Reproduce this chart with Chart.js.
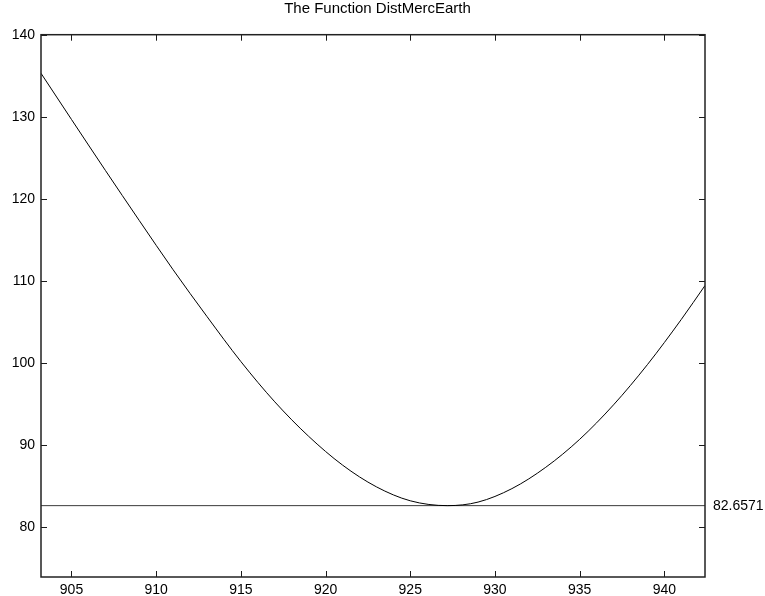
<!DOCTYPE html>
<html>
<head>
<meta charset="utf-8">
<script src="https://cdn.jsdelivr.net/npm/chart.js@4.4.1/dist/chart.umd.min.js"></script>
<style>
	html, body { margin: 0; padding: 0; background: #fff; }
	#wrap { width: 765px; height: 596px; }
</style>
</head>
<body>
<div id="wrap"><canvas id="chartDist" width="765" height="596"></canvas></div>
<script>
const chartDist = document.getElementById('chartDist').getContext('2d');

// days and distance Mercury-Earth
const days = [903.2, 905, 907, 909, 911, 913, 915, 917, 919, 921, 923, 925, 927.2, 929, 931, 933, 935, 937, 939, 941, 942.4];
const dist = [135.3, 129.68, 123.48, 117.38, 111.38, 105.68, 100.2, 95.3, 91.1, 87.6, 84.95, 83.25, 82.6571, 83.09, 84.73, 87.33, 90.73, 94.93, 99.83, 105.33, 109.46];
const minDist = 82.6571;
const minLabel = '82.6571';
const xTicks = [905, 910, 915, 920, 925, 930, 935, 940];
const yTicks = [80, 90, 100, 110, 120, 130, 140];
const xRange = [903.2, 942.4];
const yRange = [73.97, 140];

const fontFamily = '"Liberation Sans", Arial, Helvetica, sans-serif';

// box round the plot with inward ticks on all four sides, plus the minimum label
const boxPlugin = {
	id: 'boxTicks',
	afterDraw: (chart) => {
		const {ctx, chartArea: a, scales} = chart;
		const len = 6;
		ctx.save();
		ctx.strokeStyle = '#1a1a1a';
		ctx.lineWidth = 1;
		ctx.beginPath();
		xTicks.forEach(v => {
			const x = Math.round(scales.x.getPixelForValue(v)) + 0.5;
			ctx.moveTo(x, a.bottom); ctx.lineTo(x, a.bottom - len);
			ctx.moveTo(x, a.top); ctx.lineTo(x, a.top + len);
		});
		yTicks.forEach(v => {
			const y = Math.round(scales.y.getPixelForValue(v)) + 0.5;
			ctx.moveTo(a.left, y); ctx.lineTo(a.left + len, y);
			ctx.moveTo(a.right, y); ctx.lineTo(a.right - len, y);
		});
		ctx.stroke();
		ctx.lineWidth = 1.5;
		ctx.strokeStyle = '#222';
		ctx.strokeRect(a.left, a.top, a.right - a.left, a.bottom - a.top);

		ctx.fillStyle = '#000';
		ctx.font = '14px ' + fontFamily;
		ctx.textAlign = 'left';
		ctx.textBaseline = 'middle';
		ctx.fillText(minLabel, a.right + 8, scales.y.getPixelForValue(minDist));
		ctx.restore();
	}
};

let chartDistConfig = {
	type: 'line',
	data: {
		datasets: [
			{
				data: days.map((d, i) => ({x: d, y: dist[i]})),
				borderColor: '#000',
				borderWidth: 1,
				pointRadius: 0,
				cubicInterpolationMode: 'monotone',
				fill: false
			},
			{
				data: [{x: xRange[0], y: minDist}, {x: xRange[1], y: minDist}],
				borderColor: '#3a3a3a',
				borderWidth: 1,
				pointRadius: 0,
				fill: false
			}
		]
	},
	options: {
		responsive: false,
		animation: false,
		layout: {
			padding: {
				top: 0,
				left: 0,
				right: 10,
				bottom: 0
			}
		},
		scales: {
			x: {
				type: 'linear',
				min: xRange[0],
				max: xRange[1],
				afterBuildTicks: (scale) => { scale.ticks = xTicks.map(v => ({value: v})); },
				afterFit: (scale) => { scale.height = 19; },
				ticks: {
					padding: 5,
					maxRotation: 0,
					autoSkip: false,
					color: '#000',
					font: { family: fontFamily, size: 14 }
				},
				grid: {
					display: false,
					drawTicks: false
				},
				border: {
					display: false
				}
			},
			y: {
				min: yRange[0],
				max: yRange[1],
				afterBuildTicks: (scale) => { scale.ticks = yTicks.map(v => ({value: v})); },
				afterFit: (scale) => { scale.width = 41; },
				ticks: {
					padding: 6,
					autoSkip: false,
					color: '#000',
					font: { family: fontFamily, size: 14 }
				},
				grid: {
					display: false,
					drawTicks: false
				},
				border: {
					display: false
				}
			},
			// empty strip on the right that holds the minimum label
			yRight: {
				position: 'right',
				afterFit: (scale) => { scale.width = 50; },
				ticks: { display: false },
				grid: { display: false, drawTicks: false },
				border: { display: false }
			}
		},
		plugins: {
			legend: {
				display: false
			},
			tooltip: {
				enabled: false
			},
			title: {
				display: true,
				text: 'The Function DistMercEarth',
				color: '#000',
				padding: { top: 0, bottom: 16.7 },
				font: { family: fontFamily, size: 15, weight: 'normal' }
			}
		}
	},
	plugins: [boxPlugin]
};

new Chart(chartDist, chartDistConfig);
</script>
</body>
</html>
